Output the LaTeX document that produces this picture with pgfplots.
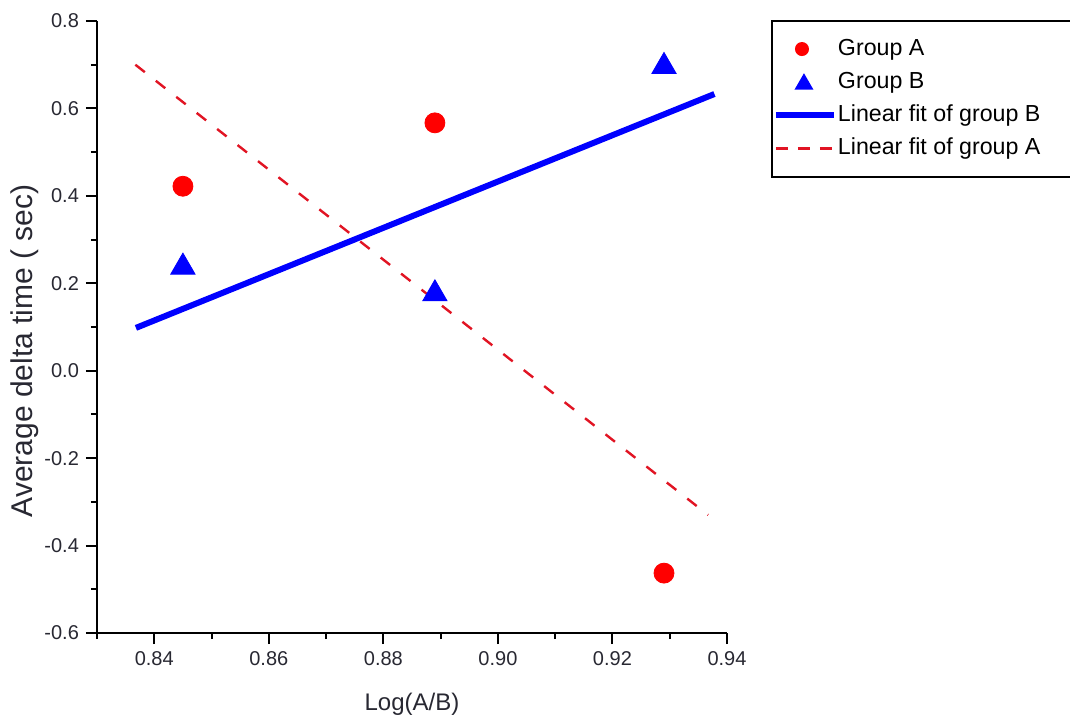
\documentclass[border=0pt]{standalone}
\usepackage{pgfplots}
\pgfplotsset{compat=1.18}
\usepackage{fontspec}
\setmainfont{Liberation Sans}
\definecolor{txt}{RGB}{40,40,50}
\definecolor{dashred}{RGB}{225,20,35}
\pgfplotsset{
  legcirc/.style={legend image code/.code={\draw[##1, mark size=3pt] plot coordinates {(13pt,0pt)};}},
  legtri/.style={legend image code/.code={\draw[##1, mark size=4.5pt] plot coordinates {(14pt,-1pt)};}},
  legline/.style={legend image code/.code={\draw[##1] (0pt,0pt) -- (29pt,0pt);}},
  legdash/.style={legend image code/.code={\draw[##1, dash pattern=on 6pt off 5pt] (0pt,0pt) -- (29pt,0pt);}},
}
\begin{document}
\begin{tikzpicture}
\path[use as bounding box] (-48.5pt,-45.5pt) rectangle (486.5pt,316.5pt);
\begin{axis}[
  at={(0,0)}, anchor=south west,
  scale only axis, width=315pt, height=306pt,
  xmin=0.83, xmax=0.94, ymin=-0.6, ymax=0.8,
  axis lines=left, axis line style={-, line width=1pt, black},
  tick style={line width=1pt, black},
  tick align=outside,
  major tick length=5.5pt, minor tick length=3pt,
  xtick={0.84,0.86,0.88,0.90,0.92,0.94},
  minor xtick={0.83,0.85,0.87,0.89,0.91,0.93},
  ytick={-0.6,-0.4,-0.2,0,0.2,0.4,0.6,0.8},
  minor ytick={-0.5,-0.3,-0.1,0.1,0.3,0.5,0.7},
  /pgf/number format/assume math mode=true,
  xticklabel style={/pgf/number format/.cd, fixed, fixed zerofill, precision=2},
  yticklabel style={/pgf/number format/.cd, fixed, fixed zerofill, precision=1},
  ticklabel style={font=\fontsize{10}{12}\selectfont, text=txt},
  xlabel={Log(A/B)},
  ylabel={Average delta time ( sec)},
  every axis x label/.style={at={(axis description cs:0.5,-0.116)}, anchor=center, font=\fontsize{12}{14}\selectfont, text=txt},
  every axis y label/.style={at={(axis description cs:-0.114,0.461)}, anchor=center, rotate=90, font=\fontsize{15}{17}\selectfont, text=txt},
  clip=false,
  legend cell align=left,
  legend style={at={(axis description cs:1.0698,1.0016)}, anchor=north west,
    draw=black, line width=1pt, inner xsep=0.5pt, inner ysep=6.5pt,
    font=\fontsize{11.6}{13}\selectfont, text=black,
    row sep=1.6pt,
    nodes={inner xsep=0.5pt, inner ysep=1.5pt, text height=9pt, text depth=3pt},
    /tikz/every even column/.append style={column sep=0pt}},
]
\addplot[only marks, mark=*, color=red, mark size=5pt, legcirc]
  coordinates {(0.845,0.422) (0.889,0.567) (0.929,-0.463)};
\addlegendentry{Group A}
\addplot[only marks, mark=triangle*, color=blue, mark size=7pt, legtri]
  coordinates {(0.845,0.237) (0.889,0.176) (0.929,0.696)};
\addlegendentry{Group B}
\addplot[no marks, color=blue, line width=3pt, legline]
  coordinates {(0.8368,0.098) (0.9378,0.633)};
\addlegendentry{\makebox[116pt][l]{Linear fit of group B}}
\addplot[no marks, color=dashred, line width=1.2pt, dash pattern=on 6pt off 7pt, legdash]
  coordinates {(0.8367,0.700) (0.9367,-0.330)};
\addlegendentry{Linear fit of group A}
\end{axis}
\end{tikzpicture}
\end{document}
